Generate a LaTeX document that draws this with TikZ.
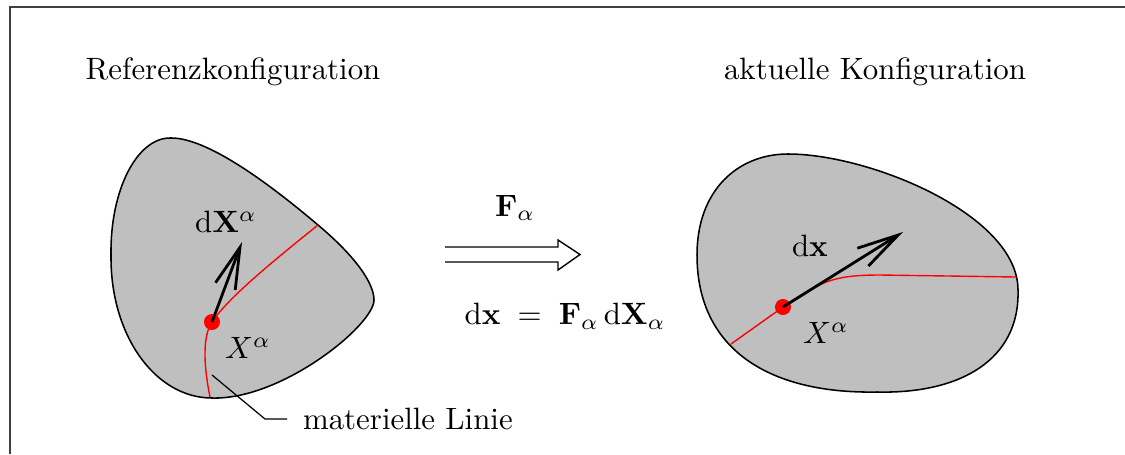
\documentclass[tikz,border=0pt]{standalone}
\usepackage{amsmath}
\usetikzlibrary{positioning,arrows.meta}

\begin{document}
\begin{tikzpicture}[x=0.324pt,y=-0.324pt,
  body/.style={draw=black,fill=black!25,line width=0.5pt},
  matline/.style={draw=red,line width=0.45pt},
  point/.style={circle,fill=red,inner sep=0pt,minimum size=5.2pt},
  vec/.style={-{Straight Barb[length=13.5pt,width=6.8pt]},line width=0.9pt},
  lead/.style={draw=black,line width=0.4pt}]
\useasboundingbox (0,0) rectangle (1125,454);
\draw[black!75,line width=0.45pt] (10,454) -- (10,7) -- (1125,7);
% titles
\node (titleRef) at (233,72) {Referenzkonfiguration};
\node (titleAkt) at (875,72) {aktuelle Konfiguration};
% reference body
\draw[body] (170,138) .. controls (205,137) and (265,180) .. (318,225)
  .. controls (355,256) and (374,283) .. (374,300)
  .. controls (374,325) and (282,400) .. (212,398)
  .. controls (155,398) and (110,335) .. (111,255)
  .. controls (110,190) and (137,138) .. cycle;
\draw[matline] (210,397) .. controls (203,362) and (203,336) .. (212,322)
  .. controls (228,298) and (272,262) .. (318,225);
\node[point] (Pref) at (212,322) {};
\coordinate (tipRef) at (242,242);
\draw[vec] (Pref.center) -- (tipRef);
\node (dXref) at (226,222) {$\mathrm{d}\mathbf{X}^{\alpha}$};
\node (Xref) at (248,348) {$X^{\alpha}$};
% material line label
\coordinate (leadRef) at (212,375);
\node[anchor=west,inner xsep=5pt] (linie) at (287,419) {materielle Linie};
\draw[lead] (leadRef) -- (265,419) -- (linie.west);
% mapping
\node (Fmap) at (515,208) {$\mathbf{F}_{\alpha}$};
\draw[line width=0.45pt] (445,247) -- (558,247) -- (558,240) -- (580,254.5)
  -- (558,270) -- (558,262) -- (445,262);
\node (eqmap) at (565,316) {$\mathrm{d}\mathbf{x} \;=\; \mathbf{F}_{\alpha}\,\mathrm{d}\mathbf{X}_{\alpha}$};
% current body
\draw[body] (788,154) .. controls (870,154) and (1018,215) .. (1018,290)
  .. controls (1020,360) and (960,394) .. (877,392)
  .. controls (770,394) and (697,350) .. (697,255)
  .. controls (697,190) and (738,154) .. cycle;
\draw[matline] (731,344) -- (783,307) .. controls (820,282) and (832,275) .. (880,275)
  -- (1016,277);
\node[point] (Pakt) at (783,307) {};
\coordinate (tipAkt) at (903,232);
\draw[vec] (Pakt.center) -- (tipAkt);
\node (dxakt) at (810,246) {$\mathrm{d}\mathbf{x}$};
\node (Xakt) at (826,333) {$X^{\alpha}$};
\end{tikzpicture}
\end{document}
